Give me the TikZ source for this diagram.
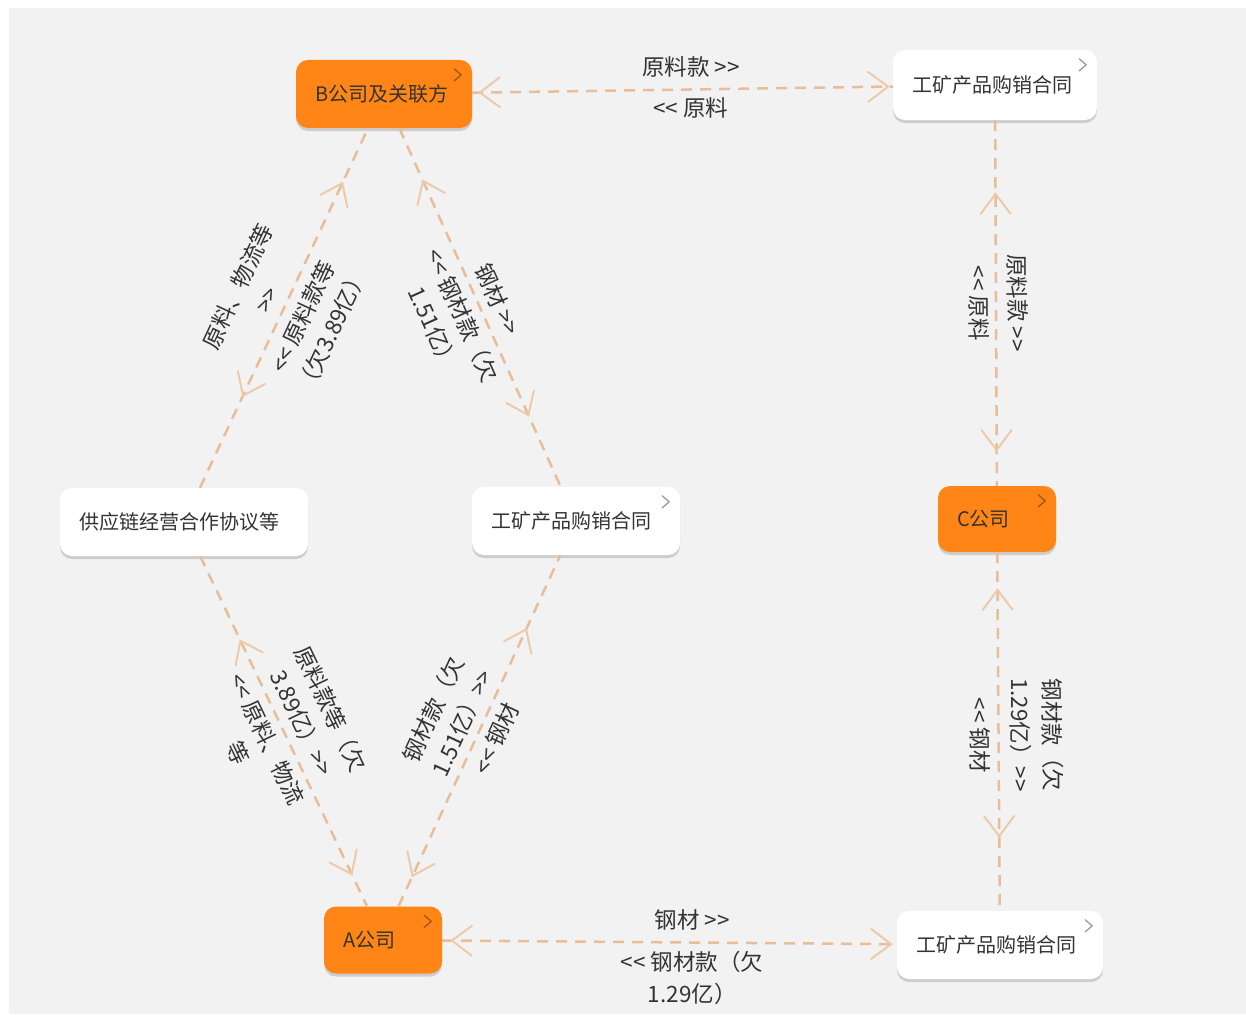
\documentclass[tikz,border=0pt]{standalone}
\usepackage{fontspec}
\setmainfont{Noto Sans CJK SC}[Ligatures=TeXOff]
\usetikzlibrary{arrows.meta,decorations.markings,shadows}
\definecolor{bgc}{RGB}{242,242,242}
\definecolor{orc}{RGB}{255,134,22}
\definecolor{linec}{RGB}{231,190,152}
\definecolor{arrc}{RGB}{237,202,170}
\definecolor{txtc}{RGB}{51,51,51}
\definecolor{chevw}{RGB}{155,155,155}
\definecolor{chevo}{RGB}{160,85,20}
\tikzset{
  box/.style={rounded corners=12pt, inner sep=0pt, align=left,
    font=\fontsize{20}{24}\selectfont, text=txtc,
    drop shadow={shadow xshift=0pt, shadow yshift=-3pt, opacity=0.15, fill=black}},
  wbox/.style={box, fill=white},
  obox/.style={box, fill=orc},
  conn/.style={draw=linec, line width=2.5pt, dash pattern=on 11pt off 8pt},
  >={Straight Barb[length=20pt,width=30pt,line width=2pt,color=arrc,line cap=round]},
  ends/.style 2 args={postaction={decorate,decoration={markings,
      mark=at position #1 with {\arrowreversed{>}},
      mark=at position -#2 with {\arrow{>}}}}},
  lab/.style={font=\fontsize{22.5}{32}\selectfont, text=txtc, inner sep=0pt, align=center},
  chev/.style={line width=1.3pt, line cap=round, line join=round}
}
\begin{document}
\begin{tikzpicture}[x=1pt,y=-1pt]
\useasboundingbox (0,0) rectangle (1246,1014);
\fill[white] (0,0) rectangle (1246,1014);
\fill[bgc] (9,8) rectangle (1246,1014);

\node[obox, minimum width=176pt, minimum height=68pt, text width=138pt] (B) at (384,94) {B公司及关联方};
\node[wbox, minimum width=204pt, minimum height=70pt, text width=166pt] (K1) at (995,85) {工矿产品购销合同};
\node[wbox, minimum width=248pt, minimum height=68pt, text width=210pt] (G) at (184,522) {供应链经营合作协议等};
\node[wbox, minimum width=208pt, minimum height=68pt, text width=170pt] (K2) at (576,521) {工矿产品购销合同};
\node[obox, minimum width=118pt, minimum height=66pt, text width=80pt] (C) at (997,519) {C公司};
\node[obox, minimum width=118pt, minimum height=67pt, text width=80pt] (A) at (383,940) {A公司};
\node[wbox, minimum width=206pt, minimum height=68pt, text width=168pt] (K3) at (1000,945) {工矿产品购销合同};

\foreach \n/\c in {B/chevo,C/chevo,A/chevo,K1/chevw,K2/chevw,K3/chevw}
  \draw[chev,\c] ([shift={(-18,9)}]\n.north east) -- ++(7,6) -- ++(-7,6);

\draw[conn, ends={6pt}{3pt}] (B) --
  node[lab, pos=0.52, above=11pt] {原料款 >>}
  node[lab, pos=0.52, below=7pt] {<< 原料} (K1);

\draw[conn, ends={100pt}{59pt}] (G) --
  node[lab, sloped, pos=0.5, above=9pt] {原料、物流等\\>>}
  node[lab, sloped, pos=0.5, below=9pt] {<< 原料款等\\（欠3.89亿）} (B);

\draw[conn, ends={56pt}{77pt}] (B) --
  node[lab, sloped, pos=0.5, above=8pt] {钢材 >>}
  node[lab, sloped, pos=0.5, below=7pt] {<< 钢材款（欠\\1.51亿）} (K2);

\draw[conn, ends={92pt}{34pt}] (G) --
  node[lab, sloped, pos=0.5, above=8pt] {原料款等（欠\\3.89亿）>>}
  node[lab, sloped, pos=0.5, below=7pt] {<< 原料、物流\\等} (A);

\draw[conn, ends={32pt}{80pt}] (A) --
  node[lab, sloped, pos=0.5, above=7pt] {钢材款（欠\\1.51亿）>>}
  node[lab, sloped, pos=0.5, below=7pt] {<< 钢材} (K2);

\draw[conn, ends={72pt}{34pt}] (K1) --
  node[lab, sloped, pos=0.5, above=10pt] {原料款 >>}
  node[lab, sloped, pos=0.5, below=5pt] {<< 原料} (C);

\draw[conn, ends={36pt}{73pt}] (C) --
  node[lab, sloped, pos=0.51, above=10pt] {钢材款（欠\\1.29亿）>>}
  node[lab, sloped, pos=0.51, below=7pt] {<< 钢材} (K3);

\draw[conn, ends={8pt}{4pt}] (A) --
  node[lab, pos=0.55, above=11pt] {钢材 >>}
  node[lab, pos=0.55, below=7pt] {<< 钢材款（欠\\1.29亿）} (K3);
\end{tikzpicture}
\end{document}
